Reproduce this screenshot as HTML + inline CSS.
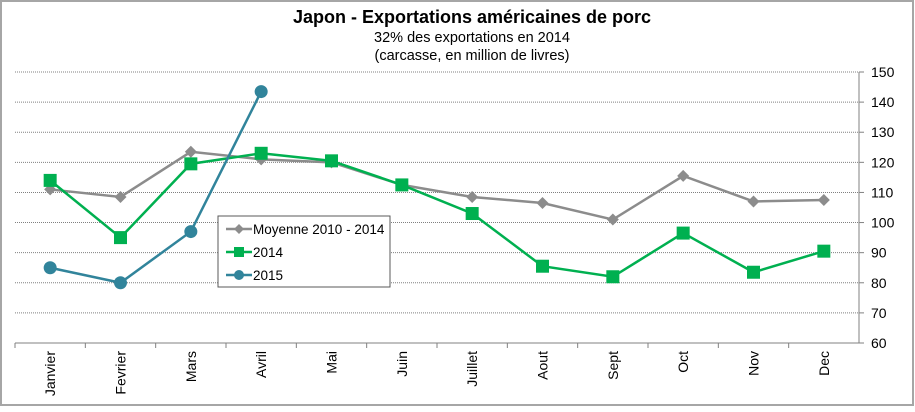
<!DOCTYPE html>
<html><head><meta charset="utf-8"><style>
body{margin:0;background:#fff;font-family:"Liberation Sans",Arial,sans-serif}
svg text{font-family:"Liberation Sans",Arial,sans-serif}
</style></head><body>
<svg id="c" width="915" height="407" xmlns="http://www.w3.org/2000/svg">
<rect x="1" y="1" width="912" height="404" fill="#fff" stroke="#a6a6a6" stroke-width="2"/>
<text x="472" y="23" text-anchor="middle" font-size="18" font-weight="bold">Japon - Exportations américaines de porc</text>
<text x="472" y="42" text-anchor="middle" font-size="14.5">32% des exportations en 2014</text>
<text x="472" y="60" text-anchor="middle" font-size="14.5">(carcasse, en million de livres)</text>
<g id="grid"></g><g id="axes"></g><g id="series"></g>
<g>
<rect x="218" y="216" width="172" height="71" fill="#fff" stroke="#595959" stroke-width="1"/>
<line x1="226" y1="229" x2="252" y2="229" stroke="#8c8c8c" stroke-width="2.5"/>
<polygon points="239,224 244,229 239,234 234,229" fill="#8c8c8c"/>
<text x="253" y="234" font-size="13.5">Moyenne 2010 - 2014</text>
<line x1="226" y1="252" x2="252" y2="252" stroke="#00b050" stroke-width="2.5"/>
<rect x="234" y="247" width="10" height="10" fill="#00b050"/>
<text x="253" y="257" font-size="13.5">2014</text>
<line x1="226" y1="275" x2="252" y2="275" stroke="#31849b" stroke-width="2.5"/>
<circle cx="239" cy="275" r="5" fill="#31849b"/>
<text x="253" y="280" font-size="13.5">2015</text>
</g>
</svg>
<script>
const categories=["Janvier","Fevrier","Mars","Avril","Mai","Juin","Juillet","Aout","Sept","Oct","Nov","Dec"];
const moyenne=[111,108.5,123.5,121,120,112.5,108.5,106.5,101,115.5,107,107.5];
const s2014=[114,95,119.5,123,120.5,112.5,103,85.5,82,96.5,83.5,90.5];
const s2015=[85,80,97,143.5];
const yTicks=[60,70,80,90,100,110,120,130,140,150];
const NS="http://www.w3.org/2000/svg";
const L=15,R=859,T=72,B=343,yMin=60,yMax=150;
const step=(R-L)/categories.length;
const xs=i=>L+step*(i+0.5);
const ys=v=>B-(v-yMin)/(yMax-yMin)*(B-T);
function mk(p,tag,a){const e=document.createElementNS(NS,tag);for(const k in a)e.setAttribute(k,a[k]);p.appendChild(e);return e;}
const grid=document.getElementById('grid'),axes=document.getElementById('axes'),ser=document.getElementById('series');
yTicks.forEach(t=>{
 if(t>yMin){const g=mk(grid,'line',{x1:L,x2:R,y1:ys(t),y2:ys(t),stroke:'#808080','stroke-width':1,'stroke-dasharray':'1,1'});
 
 }
 mk(axes,'line',{x1:R,x2:R+5,y1:ys(t),y2:ys(t),stroke:'#808080'});
 const tx=mk(axes,'text',{x:R+12,y:ys(t)+5,'font-size':14});tx.textContent=t;
 
 
});
mk(axes,'line',{x1:R,x2:R,y1:T,y2:B,stroke:'#808080'});
mk(axes,'line',{x1:L,x2:R,y1:B,y2:B,stroke:'#808080'});
categories.forEach((c,i)=>{
 const x=L+step*i;mk(axes,'line',{x1:x,x2:x,y1:B,y2:B+5,stroke:'#808080'});
 const tx=mk(axes,'text',{x:0,y:0,'font-size':14,'text-anchor':'end',transform:`translate(${xs(i)+5},${B+8}) rotate(-90)`});tx.textContent=c;
 
 
});
function draw(data,color,shape,name){
 const g=mk(ser,'g',{});
 
 
 mk(g,'polyline',{points:data.map((v,i)=>xs(i)+','+ys(v)).join(' '),fill:'none',stroke:color,'stroke-width':2.5});
 data.forEach((v,i)=>{const x=xs(i),y=ys(v);let m;
  if(shape==='d')m=mk(g,'polygon',{points:`${x},${y-6} ${x+6},${y} ${x},${y+6} ${x-6},${y}`,fill:color});
  else if(shape==='s')m=mk(g,'rect',{x:x-6.5,y:y-6.5,width:13,height:13,fill:color});
  else m=mk(g,'circle',{cx:x,cy:y,r:6.5,fill:color});
  
  
 });
}
draw(moyenne,'#8c8c8c','d','moyenne');
draw(s2014,'#00b050','s','2014');
draw(s2015,'#31849b','c','2015');
</script>
</body></html>
